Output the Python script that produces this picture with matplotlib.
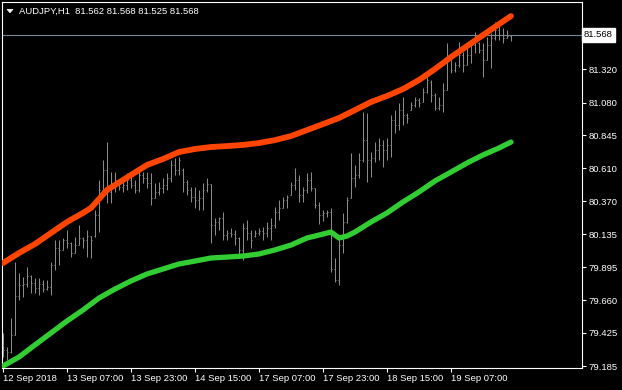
import matplotlib
matplotlib.use("Agg")
import matplotlib.pyplot as plt
import numpy as np
from matplotlib.patches import Polygon
from matplotlib.transforms import blended_transform_factory

plt.rcParams['font.family'] = ['Liberation Sans', 'DejaVu Sans']

title_text = "AUDJPY,H1  81.562 81.568 81.525 81.568"

bar_open = [79.288, 79.302, 79.288, 79.409, 79.690, 79.769, 79.776, 79.834, 79.783, 79.747,
            79.776, 79.740, 79.755, 79.913, 80.034, 80.021, 80.092, 80.070, 79.999, 80.056,
            80.106, 80.092, 80.121, 80.121, 80.272, 80.452, 80.596, 80.438, 80.488, 80.524,
            80.474, 80.488, 80.524, 80.488, 80.452, 80.560, 80.538, 80.502, 80.394, 80.438,
            80.466, 80.488, 80.538, 80.632, 80.596, 80.596, 80.510, 80.452, 80.402, 80.380,
            80.394, 80.452, 80.495, 80.200, 80.222, 80.250, 80.128, 80.142, 80.135, 80.106,
            80.021, 80.178, 80.142, 80.121, 80.142, 80.157, 80.142, 80.178, 80.200, 80.294,
            80.322, 80.380, 80.416, 80.488, 80.524, 80.416, 80.452, 80.524, 80.466, 80.344,
            80.272, 80.286, 80.294, 79.884, 79.805, 80.056, 80.222, 80.394, 80.538, 80.560,
            80.668, 80.811, 80.668, 80.682, 80.740, 80.776, 80.740, 80.776, 80.955, 80.919,
            81.027, 80.991, 81.027, 81.063, 81.099, 81.085, 81.157, 81.229, 81.135, 81.041,
            81.063, 81.171, 81.387, 81.315, 81.351, 81.423, 81.351, 81.423, 81.495, 81.509,
            81.459, 81.387, 81.495, 81.545, 81.602, 81.566, 81.545, 81.562]
bar_high = [79.423, 79.323, 79.531, 79.935, 79.855, 79.827, 79.899, 79.841, 79.819, 79.819,
            79.805, 79.805, 79.935, 80.092, 80.092, 80.106, 80.164, 80.078, 80.114, 80.200,
            80.114, 80.164, 80.121, 80.308, 80.524, 80.668, 80.797, 80.582, 80.582, 80.524,
            80.510, 80.574, 80.546, 80.524, 80.582, 80.582, 80.582, 80.574, 80.502, 80.510,
            80.538, 80.574, 80.668, 80.682, 80.690, 80.610, 80.524, 80.474, 80.474, 80.452,
            80.502, 80.538, 80.495, 80.250, 80.258, 80.294, 80.164, 80.178, 80.164, 80.114,
            80.214, 80.236, 80.164, 80.164, 80.178, 80.186, 80.222, 80.250, 80.330, 80.380,
            80.402, 80.416, 80.510, 80.610, 80.560, 80.474, 80.574, 80.582, 80.466, 80.366,
            80.308, 80.308, 80.322, 79.963, 80.114, 80.286, 80.402, 80.718, 80.632, 80.718,
            81.013, 81.006, 80.726, 80.797, 80.825, 80.811, 80.825, 80.991, 81.027, 81.077,
            81.121, 81.006, 81.085, 81.121, 81.113, 81.186, 81.279, 81.243, 81.150, 81.121,
            81.221, 81.509, 81.387, 81.372, 81.516, 81.444, 81.473, 81.530, 81.588, 81.516,
            81.509, 81.552, 81.581, 81.660, 81.638, 81.617, 81.602, 81.568]
bar_low = [79.252, 79.230, 79.280, 79.409, 79.661, 79.683, 79.755, 79.711, 79.711, 79.697,
           79.719, 79.733, 79.697, 79.877, 79.913, 80.021, 80.034, 79.971, 79.999, 80.056,
           80.034, 79.971, 79.963, 80.114, 80.150, 80.430, 80.358, 80.358, 80.438, 80.452,
           80.438, 80.452, 80.466, 80.430, 80.438, 80.502, 80.466, 80.344, 80.394, 80.416,
           80.430, 80.452, 80.510, 80.560, 80.560, 80.438, 80.416, 80.366, 80.322, 80.308,
           80.308, 80.438, 80.070, 80.128, 80.164, 80.092, 80.092, 80.114, 80.056, 79.985,
           79.949, 80.092, 80.034, 80.114, 80.128, 80.092, 80.114, 80.092, 80.178, 80.236,
           80.322, 80.322, 80.416, 80.452, 80.366, 80.366, 80.430, 80.445, 80.322, 80.207,
           80.229, 80.258, 79.863, 79.791, 79.769, 79.999, 80.214, 80.394, 80.474, 80.538,
           80.654, 80.510, 80.546, 80.654, 80.668, 80.618, 80.668, 80.690, 80.861, 80.883,
           80.919, 80.933, 81.027, 81.049, 81.049, 81.085, 81.150, 81.085, 81.027, 81.027,
           81.013, 81.171, 81.293, 81.300, 81.336, 81.300, 81.351, 81.365, 81.437, 81.437,
           81.264, 81.387, 81.329, 81.530, 81.530, 81.509, 81.545, 81.525]
bar_close = [79.302, 79.288, 79.409, 79.690, 79.769, 79.776, 79.834, 79.783, 79.747, 79.776,
             79.740, 79.755, 79.913, 80.034, 80.021, 80.092, 80.070, 79.999, 80.056, 80.106,
             80.092, 80.121, 80.092, 80.272, 80.452, 80.596, 80.438, 80.488, 80.524, 80.474,
             80.488, 80.524, 80.488, 80.452, 80.560, 80.538, 80.502, 80.394, 80.438, 80.466,
             80.488, 80.538, 80.632, 80.596, 80.668, 80.510, 80.452, 80.402, 80.380, 80.394,
             80.452, 80.495, 80.200, 80.222, 80.250, 80.128, 80.142, 80.135, 80.106, 80.021,
             80.178, 80.142, 80.092, 80.142, 80.157, 80.142, 80.178, 80.200, 80.294, 80.322,
             80.380, 80.402, 80.488, 80.524, 80.416, 80.452, 80.524, 80.466, 80.344, 80.272,
             80.286, 80.294, 79.884, 79.805, 80.056, 80.222, 80.380, 80.538, 80.560, 80.668,
             80.811, 80.668, 80.682, 80.740, 80.776, 80.740, 80.776, 80.955, 80.919, 81.027,
             80.991, 80.969, 81.063, 81.099, 81.077, 81.157, 81.243, 81.135, 81.041, 81.063,
             81.171, 81.387, 81.315, 81.351, 81.423, 81.351, 81.423, 81.495, 81.530, 81.459,
             81.387, 81.495, 81.545, 81.602, 81.566, 81.545, 81.562, 81.568]

upper_idx = [0, 4, 8, 12, 16, 20, 22, 24, 26, 28, 32, 36, 40, 44, 48, 52, 56, 60, 64, 68,
             72, 76, 80, 84, 88, 92, 96, 100, 104, 108, 112, 116, 120, 124, 127]
upper_val = [79.927, 79.999, 80.064, 80.143, 80.222, 80.287, 80.323, 80.387, 80.452, 80.488,
             80.560, 80.632, 80.675, 80.725, 80.747, 80.761, 80.768, 80.776, 80.790, 80.811,
             80.840, 80.883, 80.926, 80.970, 81.027, 81.085, 81.128, 81.178, 81.243, 81.322,
             81.408, 81.487, 81.566, 81.645, 81.703]

lower_idx = [0, 4, 8, 12, 16, 20, 24, 28, 32, 36, 40, 44, 48, 52, 56, 60, 64, 68, 72, 76,
             80, 82, 84, 86, 88, 92, 96, 100, 104, 108, 112, 116, 120, 124, 127]
lower_val = [79.186, 79.251, 79.338, 79.424, 79.510, 79.589, 79.675, 79.740, 79.798, 79.848,
             79.884, 79.920, 79.941, 79.963, 79.970, 79.977, 79.992, 80.021, 80.056, 80.107,
             80.135, 80.150, 80.107, 80.121, 80.150, 80.222, 80.287, 80.366, 80.438, 80.517,
             80.581, 80.646, 80.704, 80.754, 80.797]

last_price = 81.568
last_price_label = "81.568"

y_ticks = [81.320, 81.080, 80.845, 80.610, 80.370, 80.135, 79.895, 79.660, 79.425, 79.185]
y_tick_labels = ["81.320", "81.080", "80.845", "80.610", "80.370", "80.135", "79.895",
                 "79.660", "79.425", "79.185"]

x_tick_idx = [0, 16, 32, 48, 64, 80, 96, 112]
x_tick_labels = ["12 Sep 2018", "13 Sep 07:00", "13 Sep 23:00", "14 Sep 15:00",
                 "17 Sep 07:00", "17 Sep 23:00", "18 Sep 15:00", "19 Sep 07:00"]

W, H = 622, 390
FS = 6.8
fig = plt.figure(figsize=(W / 100, H / 100), dpi=100, facecolor="black")
ax = fig.add_axes([2 / W, 1 - 368 / H, 580 / W, 366 / H])
ax.set_facecolor("black")

idx = np.arange(len(bar_open))
bar_col = "#8a8a8a"
lw_bar = 0.72
ax.vlines(idx, bar_low, bar_high, color=bar_col, lw=lw_bar, capstyle="butt", zorder=2)
ax.hlines(bar_open, idx - 0.25, idx, color=bar_col, lw=lw_bar, capstyle="butt", zorder=2)
ax.hlines(bar_close, idx, idx + 0.25, color=bar_col, lw=lw_bar, capstyle="butt", zorder=2)

ax.axhline(last_price, color="#778899", lw=0.8, zorder=1)

ax.plot(upper_idx, upper_val, color="#FF4500", lw=4.2, solid_capstyle="round",
        solid_joinstyle="round", zorder=3)
ax.plot(lower_idx, lower_val, color="#32CD32", lw=3.8, solid_capstyle="round",
        solid_joinstyle="round", zorder=3)

ax.set_xlim(-0.25, 144.75)
ax.set_ylim(79.172, 81.804)

for s in ax.spines.values():
    s.set_color("white")
    s.set_linewidth(0.8)

ax.yaxis.tick_right()
ax.set_yticks(y_ticks, y_tick_labels)
ax.set_xticks(x_tick_idx, x_tick_labels)
ax.tick_params(axis="both", colors="white", labelcolor="white", labelsize=FS,
               length=3, width=0.8)
ax.tick_params(axis="y", pad=1.5)
ax.tick_params(axis="x", pad=1.5)
for lab in ax.get_xticklabels():
    lab.set_ha("left")

trans = blended_transform_factory(ax.transAxes, ax.transData)
ax.text(1.0 + 2 / 580, last_price, last_price_label, transform=trans, color="black",
        fontsize=FS, va="center", ha="left", clip_on=False,
        bbox=dict(boxstyle="square,pad=0.25", facecolor="white", edgecolor="white"))

fig.text(19 / W, 1 - 11 / H, title_text, color="white", fontsize=FS, va="center", ha="left")
tri = Polygon([[7 / W, 1 - 9.3 / H], [13 / W, 1 - 9.3 / H], [10 / W, 1 - 12.7 / H]],
              closed=True, transform=fig.transFigure, facecolor="white", edgecolor="white", lw=0.5)
fig.add_artist(tri)

fig.savefig("out.png", dpi=100, facecolor="black")
